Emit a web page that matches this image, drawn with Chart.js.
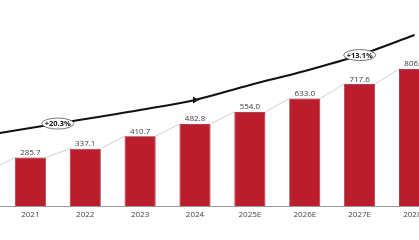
<!doctype html>
<html>

<head>
    <title>Market size</title>
    <script src="https://cdn.jsdelivr.net/npm/chart.js@4.4.0/dist/chart.umd.min.js"></script>
    <style>
        html, body {
            margin: 0;
            padding: 0;
            background: #fff;
            overflow: hidden;
            width: 419px;
            height: 240px;
        }

        /* the picture is a crop of a wider chart, so the canvas spills over both sides */
        .canvas-container {
            position: absolute;
            left: -52px;
            top: 0;
            width: 494px;
            height: 240px;
        }
    </style>
</head>

<body>
    <div class='canvas-container'>
        <canvas id="canvas"></canvas>
    </div>
    <script>
        let years = ['2020', '2021', '2022', '2023', '2024', '2025E', '2026E', '2027E', '2028E'];
        let valores = [213.0, 285.7, 337.1, 410.7, 482.8, 554.0, 633.0, 717.6, 806.4];
        let tendencia = [406, 459, 512, 565, 624, 712, 794, 888, 1006];
        let cagrLabels = ['+20.3%', '+13.1%'];
        let cagrAt = [1.5, 7];
        let cagrValue = [485, 888];

        let fuente = "'Open Sans', 'Liberation Sans', sans-serif";

        // grey connectors from bar to bar, value labels and CAGR bubbles
        let extras = {
            id: 'extras',
            afterDatasetsDraw(chart) {
                let ctx = chart.ctx;
                let bars = chart.getDatasetMeta(0).data;
                ctx.save();
                ctx.strokeStyle = '#c4c4c4';
                ctx.lineWidth = 0.8;
                for (let i = 0; i < bars.length - 1; i++) {
                    let a = bars[i], b = bars[i + 1];
                    ctx.beginPath();
                    ctx.moveTo(a.x + a.width / 2, a.y);
                    ctx.lineTo(b.x - b.width / 2, b.y);
                    ctx.stroke();
                }
                ctx.fillStyle = '#3a3a3a';
                ctx.font = '8px ' + fuente;
                ctx.textAlign = 'center';
                ctx.textBaseline = 'alphabetic';
                bars.forEach((bar, i) => {
                    ctx.fillText(valores[i].toFixed(1), bar.x, bar.y - 2.5);
                });

                let x = chart.scales.x, y = chart.scales.y;
                cagrLabels.forEach((txt, i) => {
                    let cx = x.getPixelForValue(cagrAt[i]);
                    let cy = y.getPixelForValue(cagrValue[i]);
                    ctx.beginPath();
                    ctx.ellipse(cx, cy, 16, 5.5, 0, 0, Math.PI * 2);
                    ctx.fillStyle = '#fff';
                    ctx.fill();
                    ctx.strokeStyle = '#555';
                    ctx.lineWidth = 0.8;
                    ctx.stroke();
                    ctx.fillStyle = '#111';
                    ctx.font = 'bold 7.5px ' + fuente;
                    ctx.textBaseline = 'middle';
                    ctx.fillText(txt, cx, cy + 0.5);
                });
                ctx.restore();
            }
        };

        let ctx = document.getElementById('canvas').getContext('2d');
        window.myBar = new Chart(ctx, {
            type: 'bar',
            data: {
                labels: years,
                datasets: [{
                    label: 'Market',
                    data: valores,
                    backgroundColor: '#bb1d2c',
                    borderColor: '#931522',
                    borderWidth: 0.8,
                    barPercentage: 0.566,
                    categoryPercentage: 1,
                    order: 2
                }, {
                    type: 'line',
                    label: 'CAGR',
                    data: tendencia,
                    borderColor: '#111',
                    backgroundColor: '#111',
                    borderWidth: 2,
                    tension: 0.35,
                    pointStyle: 'triangle',
                    pointRotation: 90,
                    pointRadius: tendencia.map((v, i) => i === 4 ? 2 : 0),
                    order: 1
                }]
            },
            options: {
                responsive: true,
                maintainAspectRatio: false,
                animation: false,
                layout: { padding: 0 },
                plugins: {
                    legend: { display: false },
                    tooltip: { enabled: false }
                },
                scales: {
                    x: {
                        grid: { display: false, drawTicks: false },
                        border: { display: true, color: '#9a9a9a', width: 1 },
                        ticks: {
                            color: '#444',
                            padding: 4,
                            maxRotation: 0,
                            autoSkip: false,
                            font: { family: fuente, size: 8 }
                        },
                        afterFit(scale) {
                            scale.height = 34;
                        }
                    },
                    y: {
                        display: false,
                        min: 0,
                        max: 1212
                    }
                }
            },
            plugins: [extras]
        });
    </script>
</body>

</html>
